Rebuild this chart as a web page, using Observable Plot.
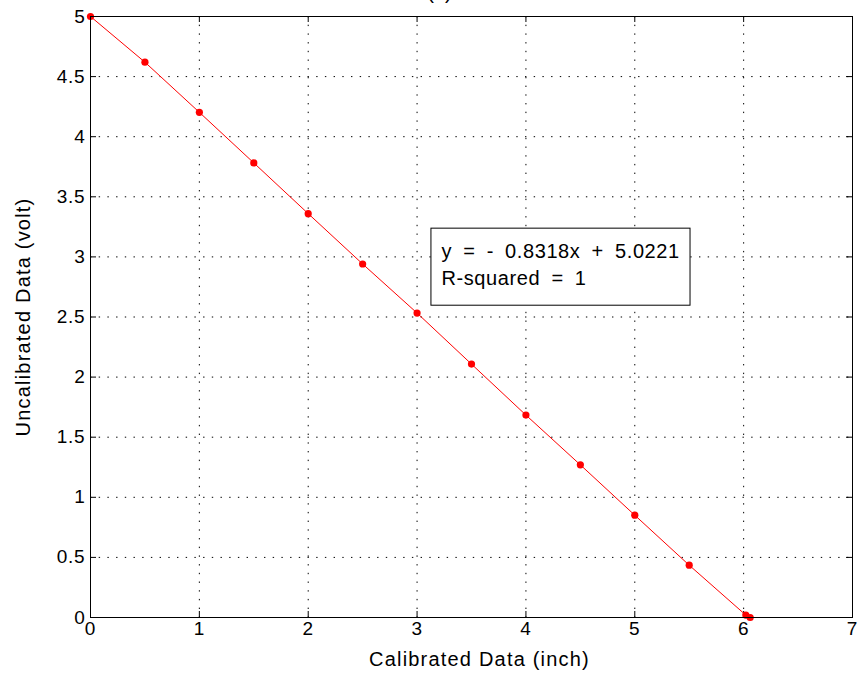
<!DOCTYPE html>
<html>
<head>
<meta charset="utf-8">
<script src="https://cdn.jsdelivr.net/npm/d3@7"></script>
<script src="https://cdn.jsdelivr.net/npm/@observablehq/plot@0.6"></script>
<style>
  html, body { margin: 0; padding: 0; background: #fff; }
  #chart svg { overflow: hidden; }
</style>
</head>
<body>
<div id="chart"></div>
<script>
// ---- data ----
const calibrated = [0, 0.5, 1, 1.5, 2, 2.5, 3, 3.5, 4, 4.5, 5, 5.5, 6.02, 6.06];
const voltage    = [5.0, 4.62, 4.203, 3.782, 3.36, 2.941, 2.533, 2.108, 1.684, 1.27, 0.851, 0.435, 0.02, 0.0];
const xTicks = [0, 1, 2, 3, 4, 5, 6, 7];
const yTicks = [0, 0.5, 1, 1.5, 2, 2.5, 3, 3.5, 4, 4.5, 5];
const yTickLabels = ["0", "0.5", "1", "1.5", "2", "2.5", "3", "3.5", "4", "4.5", "5"];
const titleText = "(a)";
const xLabel = "Calibrated Data (inch)";
const yLabel = "Uncalibrated Data (volt)";
const fitLines = ["y = - 0.8318x + 5.0221", "R-squared = 1"];
const fitLineY = [3.043, 2.818];
const fitBox = [{x1: 3.132, x2: 5.512, y1: 2.594, y2: 3.235}];

const data = calibrated.map((x, i) => ({x, y: voltage[i]}));
const fitText = fitLines.map((t, i) => ({t, y: fitLineY[i], x: fitBox[0].x1}));

const W = 861, H = 685, mL = 90, mR = 9, mT = 16, mB = 68;
const fw = W - mL - mR, fh = H - mT - mB;
const font = "'Liberation Sans', Arial, Helvetica, sans-serif";

const chart = Plot.plot({
  width: W, height: H,
  marginLeft: mL, marginRight: mR, marginTop: mT, marginBottom: mB,
  style: {fontFamily: font, background: "#fff", overflow: "hidden"},
  x: {domain: [0, 7]},
  y: {domain: [0, 5]},
  marks: [
    // dotted grid
    Plot.ruleX(xTicks, {x: d => d, stroke: "#000", strokeWidth: 1, strokeDasharray: "1.4,7.3"}),
    Plot.ruleY(yTicks, {y: d => d, stroke: "#000", strokeWidth: 1, strokeDasharray: "1.4,7.3"}),
    // inward ticks
    Plot.ruleX(xTicks, {x: d => d, insetTop: fh - 6, stroke: "#000"}),
    Plot.ruleX(xTicks, {x: d => d, insetBottom: fh - 6, stroke: "#000"}),
    Plot.ruleY(yTicks, {y: d => d, insetRight: fw - 6, stroke: "#000"}),
    Plot.ruleY(yTicks, {y: d => d, insetLeft: fw - 6, stroke: "#000"}),
    // data
    Plot.line(data, {x: "x", y: "y", stroke: "#ff0000", strokeWidth: 1}),
    Plot.dot(data, {x: "x", y: "y", fill: "#ff0000", r: 3.6, stroke: "none"}),
    // annotation box
    Plot.rect(fitBox, {x1: "x1", x2: "x2", y1: "y1", y2: "y2", fill: "#fff", stroke: "#000", strokeWidth: 1}),
    Plot.text(fitText, {x: "x", y: "y", text: "t", textAnchor: "start", dx: 10, fontSize: 20, fill: "#000"}),
    // frame
    Plot.frame({stroke: "#000", strokeWidth: 1}),
    // tick labels
    Plot.axisX(xTicks, {tickSize: 0, tickPadding: 4, fontSize: 19, label: null, fill: "#000"}),
    Plot.axisY(yTicks, {tickSize: 0, tickPadding: 5, fontSize: 19, label: null, fill: "#000",
      tickFormat: d => yTickLabels[yTicks.indexOf(d)]}),
    // axis labels
    Plot.text([xLabel], {text: d => d, frameAnchor: "bottom", dy: 42, dx: 8, textAnchor: "middle", lineAnchor: "middle",
      fontSize: 20, fill: "#000"}),
    Plot.text([yLabel], {text: d => d, frameAnchor: "left", dx: -67, dy: 0, rotate: -90, textAnchor: "middle", lineAnchor: "middle",
      fontSize: 20, fill: "#000"}),
    // title (cut off at the top, as in the reference)
    Plot.text([titleText], {text: d => d, frameAnchor: "top", dx: -32, dy: -24, textAnchor: "middle", lineAnchor: "middle", fontSize: 20, fill: "#000"})
  ]
});
document.getElementById("chart").appendChild(chart);

// widen the spacing of the texts to match the reference's rendering
d3.select(chart).selectAll("text").each(function() {
  const t = this.textContent;
  const el = d3.select(this);
  if (fitLines.includes(t)) {
    el.style("letter-spacing", "0.6px").style("word-spacing", "5px");
  } else if (t === xLabel || t === yLabel) {
    el.style("letter-spacing", "1.2px");
  } else if (t !== titleText) {
    el.style("letter-spacing", "0.8px");
  }
});
</script>
</body>
</html>
